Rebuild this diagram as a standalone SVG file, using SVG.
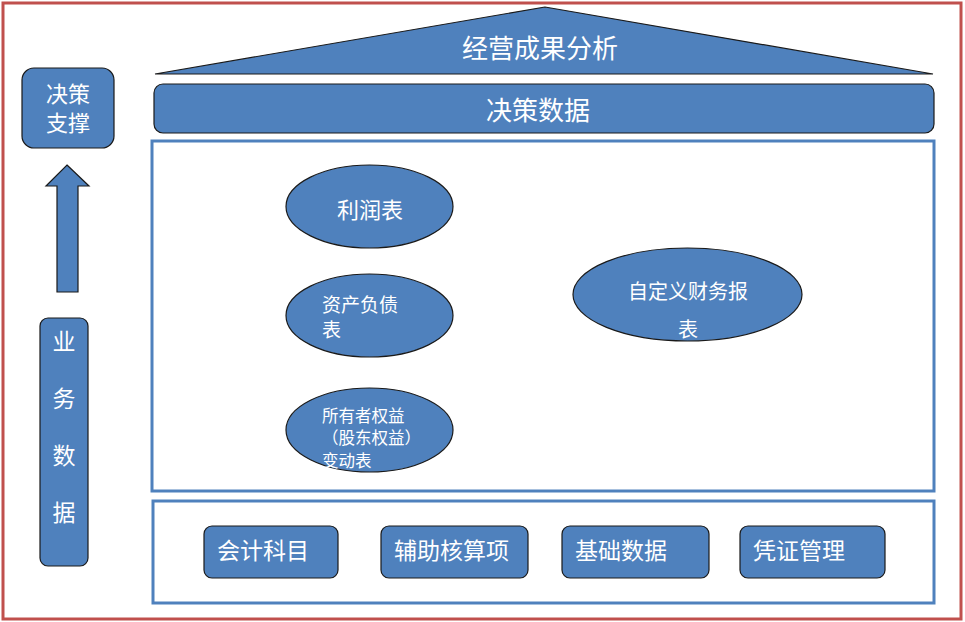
<svg xmlns="http://www.w3.org/2000/svg" width="965" height="622" viewBox="0 0 965 622">
<style>
.shape{fill:#4F81BD;stroke:#1a1a1a;stroke-width:1.2}
.frame{fill:#fff;stroke:#4F81BD;stroke-width:3}
.t{font-family:"Noto Sans CJK SC","Liberation Sans",sans-serif;fill:#fff}
.c{text-anchor:middle;dominant-baseline:central}
.l{dominant-baseline:central}
</style>
<rect x="3" y="3" width="958" height="616" fill="#fff" stroke="#C0504D" stroke-width="3"/>
<g id="roof">
<polygon class="shape" points="545,7 155,74 933,74"/>
<text class="t c" x="540" y="46" font-size="26">经营成果分析</text>
</g>
<g id="decision-data">
<rect class="shape" x="154" y="84" width="780" height="49" rx="9"/>
<text class="t c" x="538" y="108" font-size="26">决策数据</text>
</g>
<g id="reports-frame">
<rect class="frame" x="152" y="141" width="782" height="350"/>
</g>
<g id="income">
<ellipse class="shape" cx="369.5" cy="206.5" rx="83.5" ry="41.5"/>
<text class="t c" x="370" y="208" font-size="22">利润表</text>
</g>
<g id="balance">
<ellipse class="shape" cx="369.5" cy="315.5" rx="83.5" ry="41.5"/>
<text class="t l" font-size="19"><tspan x="322" y="303">资产负债</tspan><tspan x="322" y="328">表</tspan></text>
</g>
<g id="equity">
<ellipse class="shape" cx="369.5" cy="430" rx="83.5" ry="42"/>
<text class="t l" font-size="16.5"><tspan x="322" y="414.5">所有者权益</tspan><tspan x="322" y="437">（股东权益）</tspan><tspan x="322" y="459.5">变动表</tspan></text>
</g>
<g id="custom">
<ellipse class="shape" cx="687.5" cy="294.5" rx="114.5" ry="46.5"/>
<text class="t c" font-size="20"><tspan x="688" y="290">自定义财务报</tspan><tspan x="688" y="328">表</tspan></text>
</g>
<g id="base-frame">
<rect class="frame" x="153" y="501" width="781" height="102"/>
</g>
<g id="accounts">
<rect class="shape" x="204" y="526" width="134" height="52" rx="8"/>
<text class="t l" x="217" y="549" font-size="23">会计科目</text>
</g>
<g id="auxiliary">
<rect class="shape" x="381" y="526" width="147" height="52" rx="8"/>
<text class="t l" x="394" y="549" font-size="23">辅助核算项</text>
</g>
<g id="basic">
<rect class="shape" x="562" y="526" width="147" height="52" rx="8"/>
<text class="t l" x="575" y="549" font-size="23">基础数据</text>
</g>
<g id="voucher">
<rect class="shape" x="740" y="526" width="145" height="52" rx="8"/>
<text class="t l" x="753" y="549" font-size="23">凭证管理</text>
</g>
<g id="support">
<rect class="shape" x="22" y="68" width="92" height="80" rx="12"/>
<text class="t c" font-size="22"><tspan x="68" y="92">决策</tspan><tspan x="68" y="121">支撑</tspan></text>
</g>
<g id="business">
<rect class="shape" x="40" y="318" width="48" height="248" rx="8"/>
<text class="t c" font-size="23"><tspan x="64" y="340">业</tspan><tspan x="64" y="397">务</tspan><tspan x="64" y="454">数</tspan><tspan x="64" y="511">据</tspan></text>
</g>
<g id="connectors">
<polygon class="shape" points="67,165 89,186 78,186 78,292 57,292 57,186 46,186"/>
</g>
</svg>
